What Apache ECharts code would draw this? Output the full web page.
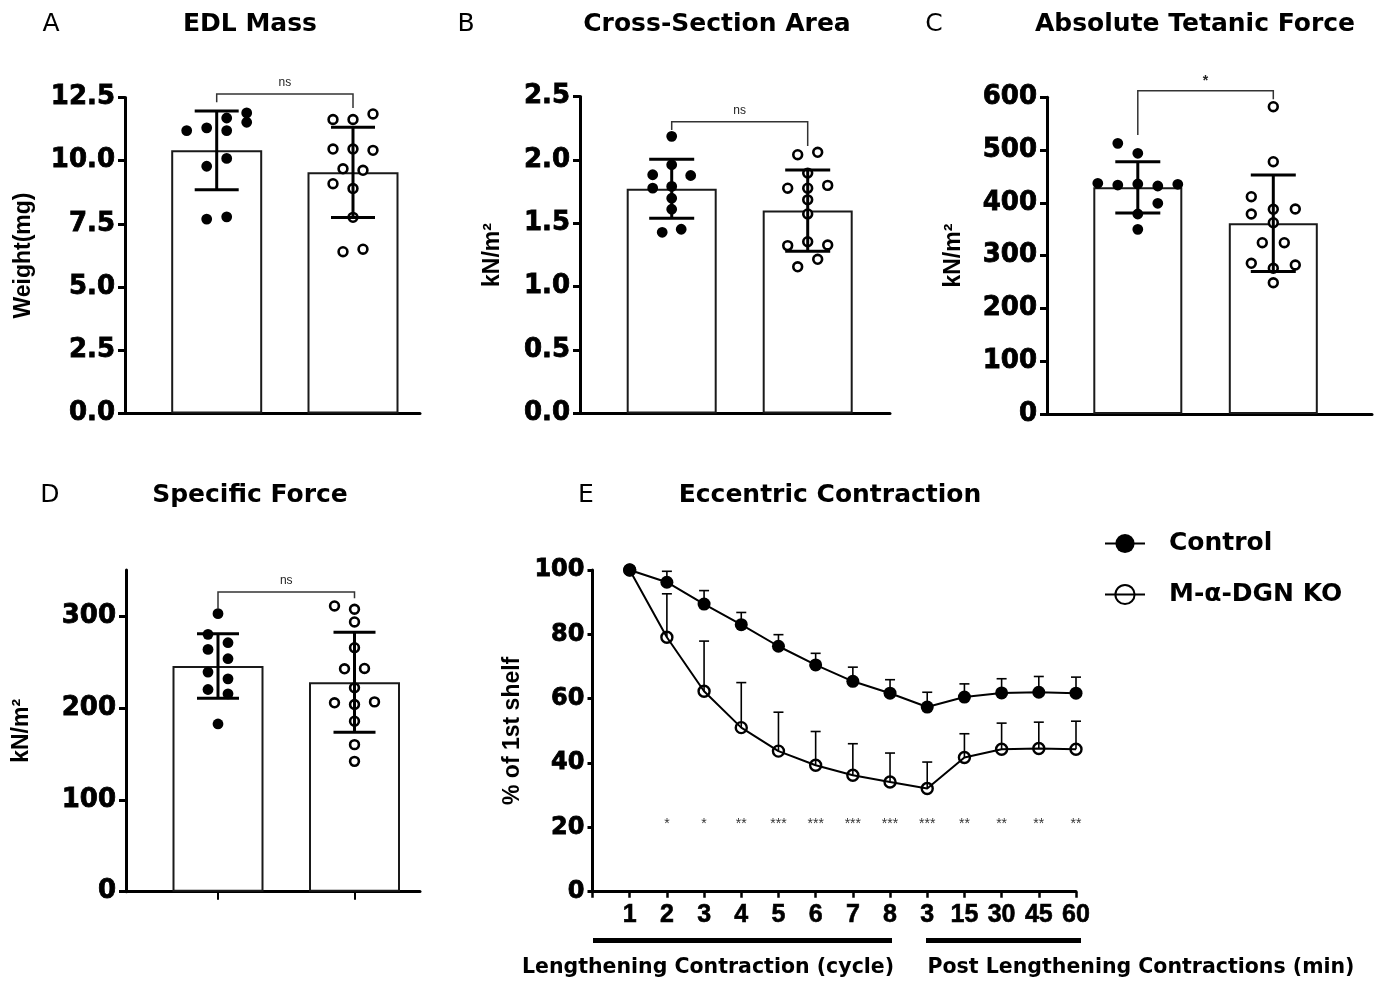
<!DOCTYPE html>
<html><head><meta charset="utf-8">
<script src="https://cdn.jsdelivr.net/npm/echarts@6/dist/echarts.min.js"></script>
<style>html,body{margin:0;padding:0;background:#fff}#c{width:1385px;height:982px}</style>
</head><body><div id="c"></div>
<script>
// ================= DATA =================
const groups = ['Control', 'M-α-DGN KO'];

// A: EDL Mass (mg)
const edlMean = [10.41, 9.54];
const edlSD = [1.56, 1.785];
const edlCtrl = [11.19, 11.30, 11.69, 11.19, 11.89, 11.52, 10.09, 9.78, 7.69, 7.78];
const edlCtrlSlot = [-3, -1, 1, 1, 3, 3, 1, -1, -1, 1];
const edlKO = [11.63, 11.63, 11.85, 10.46, 10.46, 10.41, 9.68, 9.62, 9.09, 8.90, 7.76, 6.40, 6.50];
const edlKOSlot = [-2, 0, 2, -2, 0, 2, -1, 1, -2, 0, 0, -1, 1];
const edlBracket = [12.64, 12.31, 12.08];
const edlSig = 'ns';
const edlTicks = [0, 12.5, 2.5];

// B: Cross-Section Area
const csaMean = [1.772, 1.60];
const csaSD = [0.233, 0.32];
const csaCtrl = [2.186, 1.883, 1.962, 1.877, 1.777, 1.791, 1.698, 1.611, 1.429, 1.453];
const csaCtrlSlot = [0, -2, 0, 2, -2, 0, 0, 0, -1, 1];
const csaKO = [2.041, 2.060, 1.777, 1.896, 1.777, 1.799, 1.685, 1.574, 1.324, 1.355, 1.329, 1.157, 1.216];
const csaKOSlot = [-1, 1, -2, 0, 0, 2, 0, 0, -2, 0, 2, -1, 1];
const csaBracket = [2.30, 2.236, 2.11];
const csaSig = 'ns';
const csaTicks = [0, 2.5, 0.5];

// C: Absolute Tetanic Force
const atfMean = [429.5, 361.3];
const atfSD = [48.6, 91.3];
const atfCtrl = [512.8, 493.9, 437.1, 433.8, 435.7, 432.0, 435.2, 399.2, 378.9, 349.9];
const atfCtrlSlot = [-2, 0, -4, -2, 0, 2, 4, 2, 0, 0];
const atfKO = [582.2, 478.0, 411.7, 378.9, 387.8, 388.4, 362.4, 324.5, 324.5, 285.5, 276.0, 282.3, 248.7];
const atfKOSlot = [0, 0, -2, -2, 0, 2, 0, -1, 1, -2, 0, 2, 0];
const atfBracket = [612.5, 528.6, 596.2];
const atfSig = '*';
const atfTicks = [0, 600, 100];

// D: Specific Force
const sfMean = [245.5, 228.0];
const sfSD = [35.1, 54.4];
const sfCtrl = [302.5, 280.0, 270.9, 263.6, 253.5, 238.9, 231.6, 220.0, 215.3, 182.5];
const sfCtrlSlot = [0, -1, 1, -1, 1, -1, 1, -1, 1, 0];
const sfKO = [310.9, 307.3, 293.5, 265.5, 242.5, 242.9, 221.8, 205.5, 203.6, 206.5, 185.5, 160.0, 141.8];
const sfKOSlot = [-2, 0, 0, 0, -1, 1, 0, -2, 0, 2, 0, 0, 0];
const sfBracket = [326.2, 307.3, 319.3];
const sfSig = 'ns';
const sfTickLabels = [0, 100, 200, 300];

// E: Eccentric Contraction
const eLabels = ['1', '2', '3', '4', '5', '6', '7', '8', '3', '15', '30', '45', '60'];
const eCtrl = [100, 96.2, 89.4, 83.0, 76.3, 70.5, 65.4, 61.7, 57.4, 60.5, 61.8, 62.0, 61.7];
const eCtrlErr = [0, 3.4, 4.2, 3.8, 3.6, 3.6, 4.4, 4.2, 4.6, 4.1, 4.4, 4.9, 5.0];
const eKO = [100, 79.1, 62.3, 51.0, 43.7, 39.3, 36.2, 34.1, 32.1, 41.7, 44.3, 44.5, 44.3];
const eKOErr = [0, 13.5, 15.6, 14.0, 12.1, 10.5, 9.8, 9.0, 8.2, 7.4, 8.1, 8.2, 8.7];
const eStars = ['', '*', '*', '**', '***', '***', '***', '***', '***', '**', '**', '**', '**'];
const eStarLevel = 21;

// ================= LAYOUT =================
const LAY = [
  {left:125, right:420, top:97.5, bottom:413.5, c:[216.7, 353], barW:91, capW:44, slot:10, slotKO:10, nameGap:90},
  {left:580, right:890, top:96.5, bottom:413.5, c:[671.7, 807.7], barW:90, capW:45, slot:9.5, slotKO:10, nameGap:76},
  {left:1047, right:1372, top:97.3, bottom:414, c:[1137.8, 1273.3], barW:89, capW:45, slot:10, slotKO:11, nameGap:82},
  {left:126, right:420, top:570, bottom:891.7, c:[218, 354.5], barW:91, capW:42, slot:10, slotKO:10, nameGap:93},
  {left:592.5, right:1076, top:570, bottom:891.7, nameGap:68}
];
const TICKFONT = {color:'#000', fontFamily:'DejaVu Sans', fontWeight:'bold', fontSize:26, textBorderColor:'#000', textBorderWidth:0.8};
const NAMEFONT = {color:'#000', fontFamily:'Liberation Sans', fontWeight:'bold', fontSize:23};

const grids = LAY.map(l => ({left:l.left, top:l.top, width:l.right - l.left, height:l.bottom - l.top, outerBoundsMode:'none', containLabel:false}));

function xRange(l) {
  const s = l.c[1] - l.c[0];
  const mn = 1 - (l.c[0] - l.left) / s;
  return [mn, mn + (l.right - l.left) / s];
}

const xAxes = [], yAxes = [], series = [];

function yAxis(gi, min, max, interval, dec, name, custom) {
  const a = {
    gridIndex: gi, type: 'value', min, max, interval,
    axisLine: {show: true, lineStyle: {color: '#000', width: 3}},
    axisTick: {show: true, length: 7, lineStyle: {color: '#000', width: 3}},
    axisLabel: Object.assign({margin: 10, formatter: v => v.toFixed(dec)}, TICKFONT),
    splitLine: {show: false},
    name, nameLocation: 'middle', nameGap: LAY[gi].nameGap, nameTextStyle: NAMEFONT
  };
  if (custom) { a.axisTick.customValues = custom; a.axisLabel.customValues = custom; }
  return a;
}

function barPanel(gi, mean, sd, ctrl, ctrlSlot, ko, koSlot, bracket, sig, ticks, dec, yname, showXTicks, custom) {
  const l = LAY[gi];
  const r = xRange(l);
  xAxes.push({
    gridIndex: gi, type: 'value', min: r[0], max: r[1],
    axisLine: {show: true, onZero: false, lineStyle: {color: '#000', width: 3}},
    axisTick: showXTicks ? {show: true, length: 8, inside: false, customValues: [1, 2], lineStyle: {color: '#000', width: 2}} : {show: false},
    axisLabel: {show: false}, splitLine: {show: false}
  });
  yAxes.push(yAxis(gi, ticks[0], ticks[1], ticks[2], dec, yname, custom));
  series.push({
    type: 'bar', xAxisIndex: gi, yAxisIndex: gi, barWidth: l.barW,
    data: mean.map((m, i) => [i + 1, m]),
    itemStyle: {color: '#fff', borderColor: '#1a1a1a', borderWidth: 2}, z: 1, silent: true
  });
  const pts = ctrl.map((v, i) => [1, v, ctrlSlot[i], 0]).concat(ko.map((v, i) => [2, v, koSlot[i], 1]));
  series.push({
    type: 'custom', xAxisIndex: gi, yAxisIndex: gi, data: pts, z: 3, clip: false, silent: true,
    renderItem: (p, api) => {
      const c = api.coord([api.value(0), api.value(1)]);
      const open = api.value(3) === 1;
      const cx = c[0] + api.value(2) * (open ? l.slotKO : l.slot);
      return open
        ? {type: 'circle', shape: {cx, cy: c[1], r: 4.4}, style: {fill: '#fff', stroke: '#000', lineWidth: 2.6}}
        : {type: 'circle', shape: {cx, cy: c[1], r: 5.4}, style: {fill: '#000'}};
    }
  });
  series.push({
    type: 'custom', xAxisIndex: gi, yAxisIndex: gi, z: 4, clip: false, silent: true,
    data: mean.map((m, i) => [i + 1, m, sd[i]]),
    renderItem: (p, api) => {
      const x = api.value(0), m = api.value(1), e = api.value(2);
      const t = api.coord([x, m + e]), b = api.coord([x, m - e]);
      const hw = l.capW / 2, st = {stroke: '#000', lineWidth: 3};
      return {type: 'group', children: [
        {type: 'line', shape: {x1: t[0], y1: t[1], x2: b[0], y2: b[1]}, style: st},
        {type: 'line', shape: {x1: t[0] - hw, y1: t[1], x2: t[0] + hw, y2: t[1]}, style: st},
        {type: 'line', shape: {x1: b[0] - hw, y1: b[1], x2: b[0] + hw, y2: b[1]}, style: st}
      ]};
    }
  });
  series.push({
    type: 'custom', xAxisIndex: gi, yAxisIndex: gi, z: 5, clip: false, silent: true,
    data: [[1, 2, bracket[0], bracket[1], bracket[2]]],
    renderItem: (p, api) => {
      const a = api.coord([api.value(0), api.value(3)]);
      const b = api.coord([api.value(0), api.value(2)]);
      const c = api.coord([api.value(1), api.value(2)]);
      const d = api.coord([api.value(1), api.value(4)]);
      return {type: 'group', children: [
        {type: 'polyline', shape: {points: [a, b, c, d]}, style: {stroke: '#333', lineWidth: 1.5, fill: null}},
        {type: 'text', style: {text: sig, x: (b[0] + c[0]) / 2, y: b[1] - (sig === '*' ? 3 : 5), align: 'center', verticalAlign: 'bottom',
          font: (sig === '*' ? 'bold 14px' : '12px') + ' "Liberation Sans"', fill: '#222'}}
      ]};
    }
  });
}

barPanel(0, edlMean, edlSD, edlCtrl, edlCtrlSlot, edlKO, edlKOSlot, edlBracket, edlSig, edlTicks, 1, 'Weight(mg)', false);
barPanel(1, csaMean, csaSD, csaCtrl, csaCtrlSlot, csaKO, csaKOSlot, csaBracket, csaSig, csaTicks, 1, 'kN/m²', false);
barPanel(2, atfMean, atfSD, atfCtrl, atfCtrlSlot, atfKO, atfKOSlot, atfBracket, atfSig, atfTicks, 0, 'kN/m²', false);
barPanel(3, sfMean, sfSD, sfCtrl, sfCtrlSlot, sfKO, sfKOSlot, sfBracket, sfSig, [0, 350, 100], 0, 'kN/m²', true, sfTickLabels);

// Panel E
xAxes.push({
  gridIndex: 4, type: 'value', min: 0, max: eLabels.length, interval: 1,
  axisLine: {show: true, onZero: false, lineStyle: {color: '#000', width: 3}},
  axisTick: {show: true, length: 6, lineStyle: {color: '#000', width: 2.5}},
  axisLabel: {margin: 11, color: '#000', fontFamily: 'Liberation Sans', fontWeight: 'bold', fontSize: 25,
    textBorderColor: '#000', textBorderWidth: 0.6,
    formatter: v => (v >= 1 ? eLabels[v - 1] : '')},
  splitLine: {show: false}
});
const eY = yAxis(4, 0, 100, 20, 0, '% of 1st shelf');
eY.axisTick.length = 5; eY.axisLabel.margin = 8; eY.axisLabel.fontSize = 24;
yAxes.push(eY);

function errSeries(mean, err) {
  return {
    type: 'custom', xAxisIndex: 4, yAxisIndex: 4, z: 1, clip: false, silent: true,
    data: mean.map((m, i) => [i + 1, m, err[i]]),
    renderItem: (p, api) => {
      const e = api.value(2);
      if (!e) return null;
      const x = api.value(0), m = api.value(1);
      const a = api.coord([x, m]), t = api.coord([x, m + e]);
      const st = {stroke: '#000', lineWidth: 1.6};
      return {type: 'group', children: [
        {type: 'line', shape: {x1: a[0], y1: a[1], x2: t[0], y2: t[1]}, style: st},
        {type: 'line', shape: {x1: t[0] - 5, y1: t[1], x2: t[0] + 5, y2: t[1]}, style: st}
      ]};
    }
  };
}
series.push(errSeries(eCtrl, eCtrlErr));
series.push(errSeries(eKO, eKOErr));
series.push({
  name: groups[0], type: 'line', xAxisIndex: 4, yAxisIndex: 4, z: 3,
  data: eCtrl.map((v, i) => [i + 1, v]), symbol: 'circle', symbolSize: 13,
  itemStyle: {color: '#000'}, lineStyle: {color: '#000', width: 2}, silent: true
});
series.push({
  name: groups[1], type: 'line', xAxisIndex: 4, yAxisIndex: 4, z: 2,
  data: eKO.map((v, i) => [i + 1, v]), symbol: 'circle', symbolSize: 11,
  itemStyle: {color: 'rgba(255,255,255,0)', borderColor: '#000', borderWidth: 2.4},
  lineStyle: {color: '#000', width: 2}, silent: true
});
series.push({
  type: 'custom', xAxisIndex: 4, yAxisIndex: 4, z: 4, clip: false, silent: true,
  data: eStars.map((s, i) => [i + 1, eStarLevel]),
  renderItem: (p, api) => {
    const c = api.coord([api.value(0), api.value(1)]);
    const s = eStars[p.dataIndex];
    if (!s) return null;
    return {type: 'text', style: {text: s, x: c[0], y: c[1], align: 'center', verticalAlign: 'middle',
      font: '14px "Liberation Sans"', fill: '#333'}};
  }
});

// ================= TEXT / DECOR =================
function txt(x, y, text, font, align) {
  return {type: 'text', x, y, style: {text, font, align: align || 'center', verticalAlign: 'middle', fill: '#000'}};
}
const TF = 'bold 25px "DejaVu Sans"';
const LF = '25px "DejaVu Sans"';
const graphic = [
  txt(51, 24, 'A', LF), txt(250, 24, 'EDL Mass', TF),
  txt(466, 24, 'B', LF), txt(717, 24, 'Cross-Section Area', TF),
  txt(934, 24, 'C', LF), txt(1195, 24, 'Absolute Tetanic Force', TF),
  txt(50, 495, 'D', LF), txt(250, 495, 'Specific Force', TF),
  txt(586, 495, 'E', LF), txt(830, 495, 'Eccentric Contraction', TF),
  {type: 'rect', shape: {x: 593, y: 938, width: 299, height: 5}, style: {fill: '#000'}},
  {type: 'rect', shape: {x: 926, y: 938, width: 155, height: 5}, style: {fill: '#000'}},
  txt(708, 968, 'Lengthening Contraction (cycle)', 'bold 20.5px "DejaVu Sans"'),
  txt(1141, 968, 'Post Lengthening Contractions (min)', 'bold 20.5px "DejaVu Sans"')
];

const chart = echarts.init(document.getElementById('c'), null, {renderer: 'canvas'});
chart.setOption({
  animation: false,
  backgroundColor: '#fff',
  grid: grids,
  xAxis: xAxes,
  yAxis: yAxes,
  legend: {
    data: groups, orient: 'vertical', left: 1104, top: 531, padding: 0, itemWidth: 40, itemHeight: 24, itemGap: 26,
    selectedMode: false, formatter: '{t|{name}}',
    textStyle: {color: '#000', fontFamily: 'DejaVu Sans', fontWeight: 'bold', fontSize: 24,
      rich: {t: {color: '#000', fontFamily: 'DejaVu Sans', fontWeight: 'bold', fontSize: 25, padding: [0, 0, 0, 19]}}}
  },
  graphic,
  series
});
</script></body></html>
